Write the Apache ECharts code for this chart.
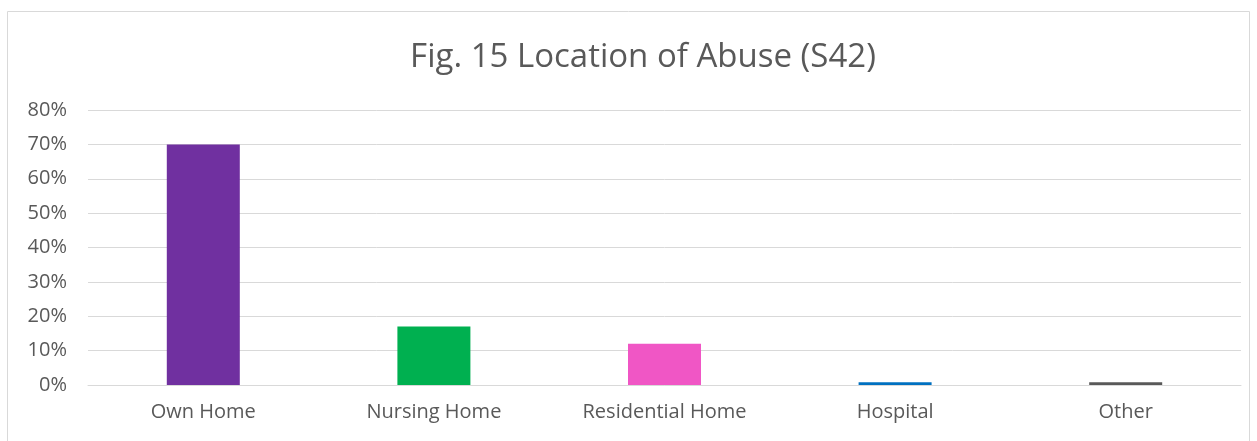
<!DOCTYPE html>
<html>
<head>
<meta charset="utf-8">
<script src="https://cdn.jsdelivr.net/npm/echarts@6/dist/echarts.min.js"></script>
<style>
  html, body { margin: 0; padding: 0; background: #fff; }
  #chart { width: 1257px; height: 441px; }
</style>
</head>
<body>
<div id="chart"></div>
<script>
// Location of abuse, share of cases (%)
const categories = ["Own Home", "Nursing Home", "Residential Home", "Hospital", "Other"];
const values = [70, 17, 12, 0.8, 0.8];
const barColors = ["#7030A0", "#00B050", "#F056C5", "#0070C0", "#595959"];
const yTicks = [0, 10, 20, 30, 40, 50, 60, 70, 80];

var chart = echarts.init(document.getElementById("chart"));

chart.setOption({
  animation: false,
  title: {
    text: "Fig. 15 Location of Abuse (S42)",
    left: 638,
    textAlign: "center",
    top: 36,
    textStyle: {
      fontFamily: "Open Sans",
      fontSize: 33,
      fontWeight: "normal",
      color: "#595959",
    },
  },
  // thin frame round the chart area
  graphic: [
    {
      type: "rect",
      shape: { x: 7.5, y: 11.5, width: 1242, height: 440 },
      style: { fill: "none", stroke: "#D9D9D9", lineWidth: 1 },
      silent: true,
    },
  ],
  grid: { left: 88, right: 16, top: 110, bottom: 56 },
  xAxis: {
    type: "category",
    data: categories,
    axisLine: { lineStyle: { color: "#D9D9D9", width: 1 } },
    axisTick: { show: false },
    axisLabel: {
      fontFamily: "Open Sans",
      fontSize: 20,
      color: "#595959",
      margin: 17,
    },
  },
  yAxis: {
    type: "value",
    min: yTicks[0],
    max: yTicks[yTicks.length - 1],
    interval: 10,
    axisLine: { show: false },
    axisTick: { show: false },
    splitLine: { lineStyle: { color: "#D9D9D9", width: 1 } },
    axisLabel: {
      fontFamily: "Open Sans",
      fontSize: 20,
      color: "#595959",
      margin: 21,
      formatter: (v) => v + "%",
    },
  },
  series: [
    {
      type: "bar",
      barWidth: 73,
      data: values.map((v, i) => ({ value: v, itemStyle: { color: barColors[i] } })),
    },
  ],
});
</script>
</body>
</html>
